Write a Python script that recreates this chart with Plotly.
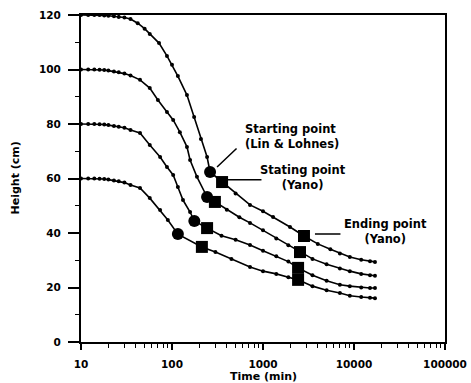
import plotly.graph_objects as go

# ---- data ----
t1 = [10, 12, 14, 16, 18, 20, 23, 26, 30, 35, 42, 50, 57, 72, 88, 100, 116, 146, 175, 208, 243, 262,
      355, 500, 720, 1000, 1290, 1980, 2820, 4000, 5500, 7000, 9000, 12000, 15000, 17000]
h1 = [120, 120, 120, 120, 119.8, 119.7, 119.5, 119.3, 119.1, 118.5, 117, 115, 113, 109.7, 105, 101.7, 97.6, 90.6, 82.6, 74.5, 67.9, 62.4,
      58.7, 54.5, 50.3, 48, 45.9, 42.2, 38.9, 36, 34, 32.5, 31.2, 30.2, 29.6, 29.4]

t2 = [10, 12, 14, 16, 18, 20, 23, 26, 30, 35, 44.5, 57, 70, 88, 103, 122, 146, 158, 188, 243,
      296, 400, 550, 720, 1000, 1400, 1900, 2550, 3500, 5000, 7000, 9000, 12000, 15000, 17000]
h2 = [100, 100, 100, 99.9, 99.8, 99.6, 99.3, 99, 98.5, 97.8, 96.2, 93.2, 88.8, 84.4, 81.5, 77, 71.6, 66.8, 60.6, 53.2,
      51.4, 48.5, 45.8, 43.7, 41, 38, 35.5, 33, 30.5, 28.5, 27, 26, 25, 24.5, 24.3]

t3 = [10, 12, 14, 16, 18, 20, 23, 26, 30, 35, 44.5, 57, 74, 88, 103, 116, 132, 158, 176,
      243, 350, 500, 720, 1000, 1400, 1900, 2430, 3500, 5000, 7000, 9000, 12000, 15000, 17000]
h3 = [80, 80, 80, 79.9, 79.8, 79.6, 79.3, 79, 78.6, 77.8, 76.7, 72.3, 67.9, 64.2, 61.3, 56.9, 52.1, 47.7, 44.4,
      41.8, 39, 37.5, 35.6, 33.5, 31.5, 29.5, 27.2, 24.5, 22.5, 21, 20.5, 20, 19.8, 19.8]

t4 = [10, 12, 14, 16, 18, 20, 23, 26, 30, 35, 44.5, 57, 74, 90, 116,
      213, 300, 450, 720, 1000, 1400, 1900, 2430, 3500, 5000, 7000, 9000, 12000, 15000, 17000]
h4 = [60, 60, 60, 59.9, 59.8, 59.6, 59.3, 59, 58.5, 57.6, 56.5, 52.8, 48.4, 44.8, 39.6,
      34.9, 33, 30.5, 27.5, 26, 25, 23.8, 22.8, 20.5, 19, 18, 17, 16.5, 16.2, 16.1]

# Starting point (Lin & Lohnes)
start_ll_t = [262, 243, 176, 116]
start_ll_h = [62.4, 53.2, 44.4, 39.6]
# Starting point (Yano)
start_y_t = [355, 296, 243, 213]
start_y_h = [58.7, 51.4, 41.8, 34.9]
# Ending point (Yano)
end_y_t = [2820, 2550, 2430, 2430]
end_y_h = [38.9, 33, 27.2, 22.8]

x_tickvals = [10, 100, 1000, 10000, 100000]
x_ticktext = ["10", "100", "1000", "10000", "100000"]
y_tickvals = [0, 20, 40, 60, 80, 100, 120]

FONT = "DejaVu Sans, Arial, sans-serif"

fig = go.Figure()
for t, h in [(t1, h1), (t2, h2), (t3, h3), (t4, h4)]:
    fig.add_trace(go.Scatter(x=t, y=h, mode="lines+markers",
                             line=dict(color="black", width=1.6),
                             marker=dict(color="black", size=4),
                             showlegend=False, hoverinfo="skip"))
fig.add_trace(go.Scatter(x=start_ll_t, y=start_ll_h, mode="markers",
                         marker=dict(color="black", size=12, symbol="circle"),
                         showlegend=False))
fig.add_trace(go.Scatter(x=start_y_t, y=start_y_h, mode="markers",
                         marker=dict(color="black", size=12, symbol="square"),
                         showlegend=False))
fig.add_trace(go.Scatter(x=end_y_t, y=end_y_h, mode="markers",
                         marker=dict(color="black", size=12, symbol="square"),
                         showlegend=False))

tickfont = dict(family=FONT, size=10.5, color="black", weight="bold")
fig.update_xaxes(type="log", range=[1, 5], tickvals=x_tickvals, ticktext=x_ticktext,
                 ticks="outside", ticklen=6, tickwidth=1.5, tickcolor="black",
                 showline=True, linecolor="black", linewidth=2, mirror=True,
                 showgrid=False, zeroline=False, tickfont=tickfont,
                 ticklabelstandoff=5, automargin=False,
                 minor=dict(ticks="outside", ticklen=4, tickwidth=1.2, tickcolor="black",
                            dtick="D1", showgrid=False))
fig.update_yaxes(range=[0, 120], tickvals=y_tickvals,
                 ticks="outside", ticklen=11, tickwidth=1.5, tickcolor="black",
                 showline=True, linecolor="black", linewidth=2, mirror=True,
                 showgrid=False, zeroline=False, tickfont=tickfont,
                 ticklabelstandoff=5, automargin=False,
                 minor=dict(ticks="outside", ticklen=4, tickwidth=1.2, tickcolor="black",
                            dtick=10, showgrid=False))

annfont = dict(family=FONT, size=11.5, color="black", weight="bold")
titlefont = dict(family=FONT, size=11, color="black", weight="bold")

# leader lines
fig.add_annotation(x=2.495, y=64.2, xref="x", yref="y", text="", showarrow=True, arrowhead=0,
                   arrowwidth=1.5, arrowcolor="black", ax=21, ay=-20)
fig.add_annotation(x=2.615, y=59.5, xref="x", yref="y", text="", showarrow=True, arrowhead=0,
                   arrowwidth=1.5, arrowcolor="black", ax=35, ay=0)
fig.add_annotation(x=3.571, y=39.6, xref="x", yref="y", text="", showarrow=True, arrowhead=0,
                   arrowwidth=1.5, arrowcolor="black", ax=27, ay=0)
# labels
fig.add_annotation(x=2.78, y=75.5, xref="x", yref="y", text="Starting point<br>(Lin & Lohnes)",
                   showarrow=False, xanchor="left", yanchor="middle", align="left", font=annfont)
fig.add_annotation(x=3.44, y=60.2, xref="x", yref="y", text="Stating point<br>(Yano)",
                   showarrow=False, xanchor="center", yanchor="middle", align="center", font=annfont)
fig.add_annotation(x=4.346, y=40.4, xref="x", yref="y", text="Ending point<br>(Yano)",
                   showarrow=False, xanchor="center", yanchor="middle", align="center", font=annfont)
# axis titles
fig.add_annotation(x=0.5, y=0, xref="paper", yref="paper", text="Time (min)",
                   showarrow=False, font=titlefont, xanchor="center", yanchor="middle",
                   yshift=-34)
fig.add_annotation(x=0, y=0.5, xref="paper", yref="paper", text="Height (cm)",
                   textangle=-90, showarrow=False, font=titlefont,
                   xanchor="center", yanchor="middle", xshift=-66)

fig.update_layout(
    width=471, height=383,
    margin=dict(l=81, r=26, t=15, b=41, pad=0, autoexpand=False),
    paper_bgcolor="white", plot_bgcolor="white",
)

fig.write_html("out.html", config={"displayModeBar": False},
               post_script="document.body.style.margin='0';document.body.style.overflow='hidden';")
